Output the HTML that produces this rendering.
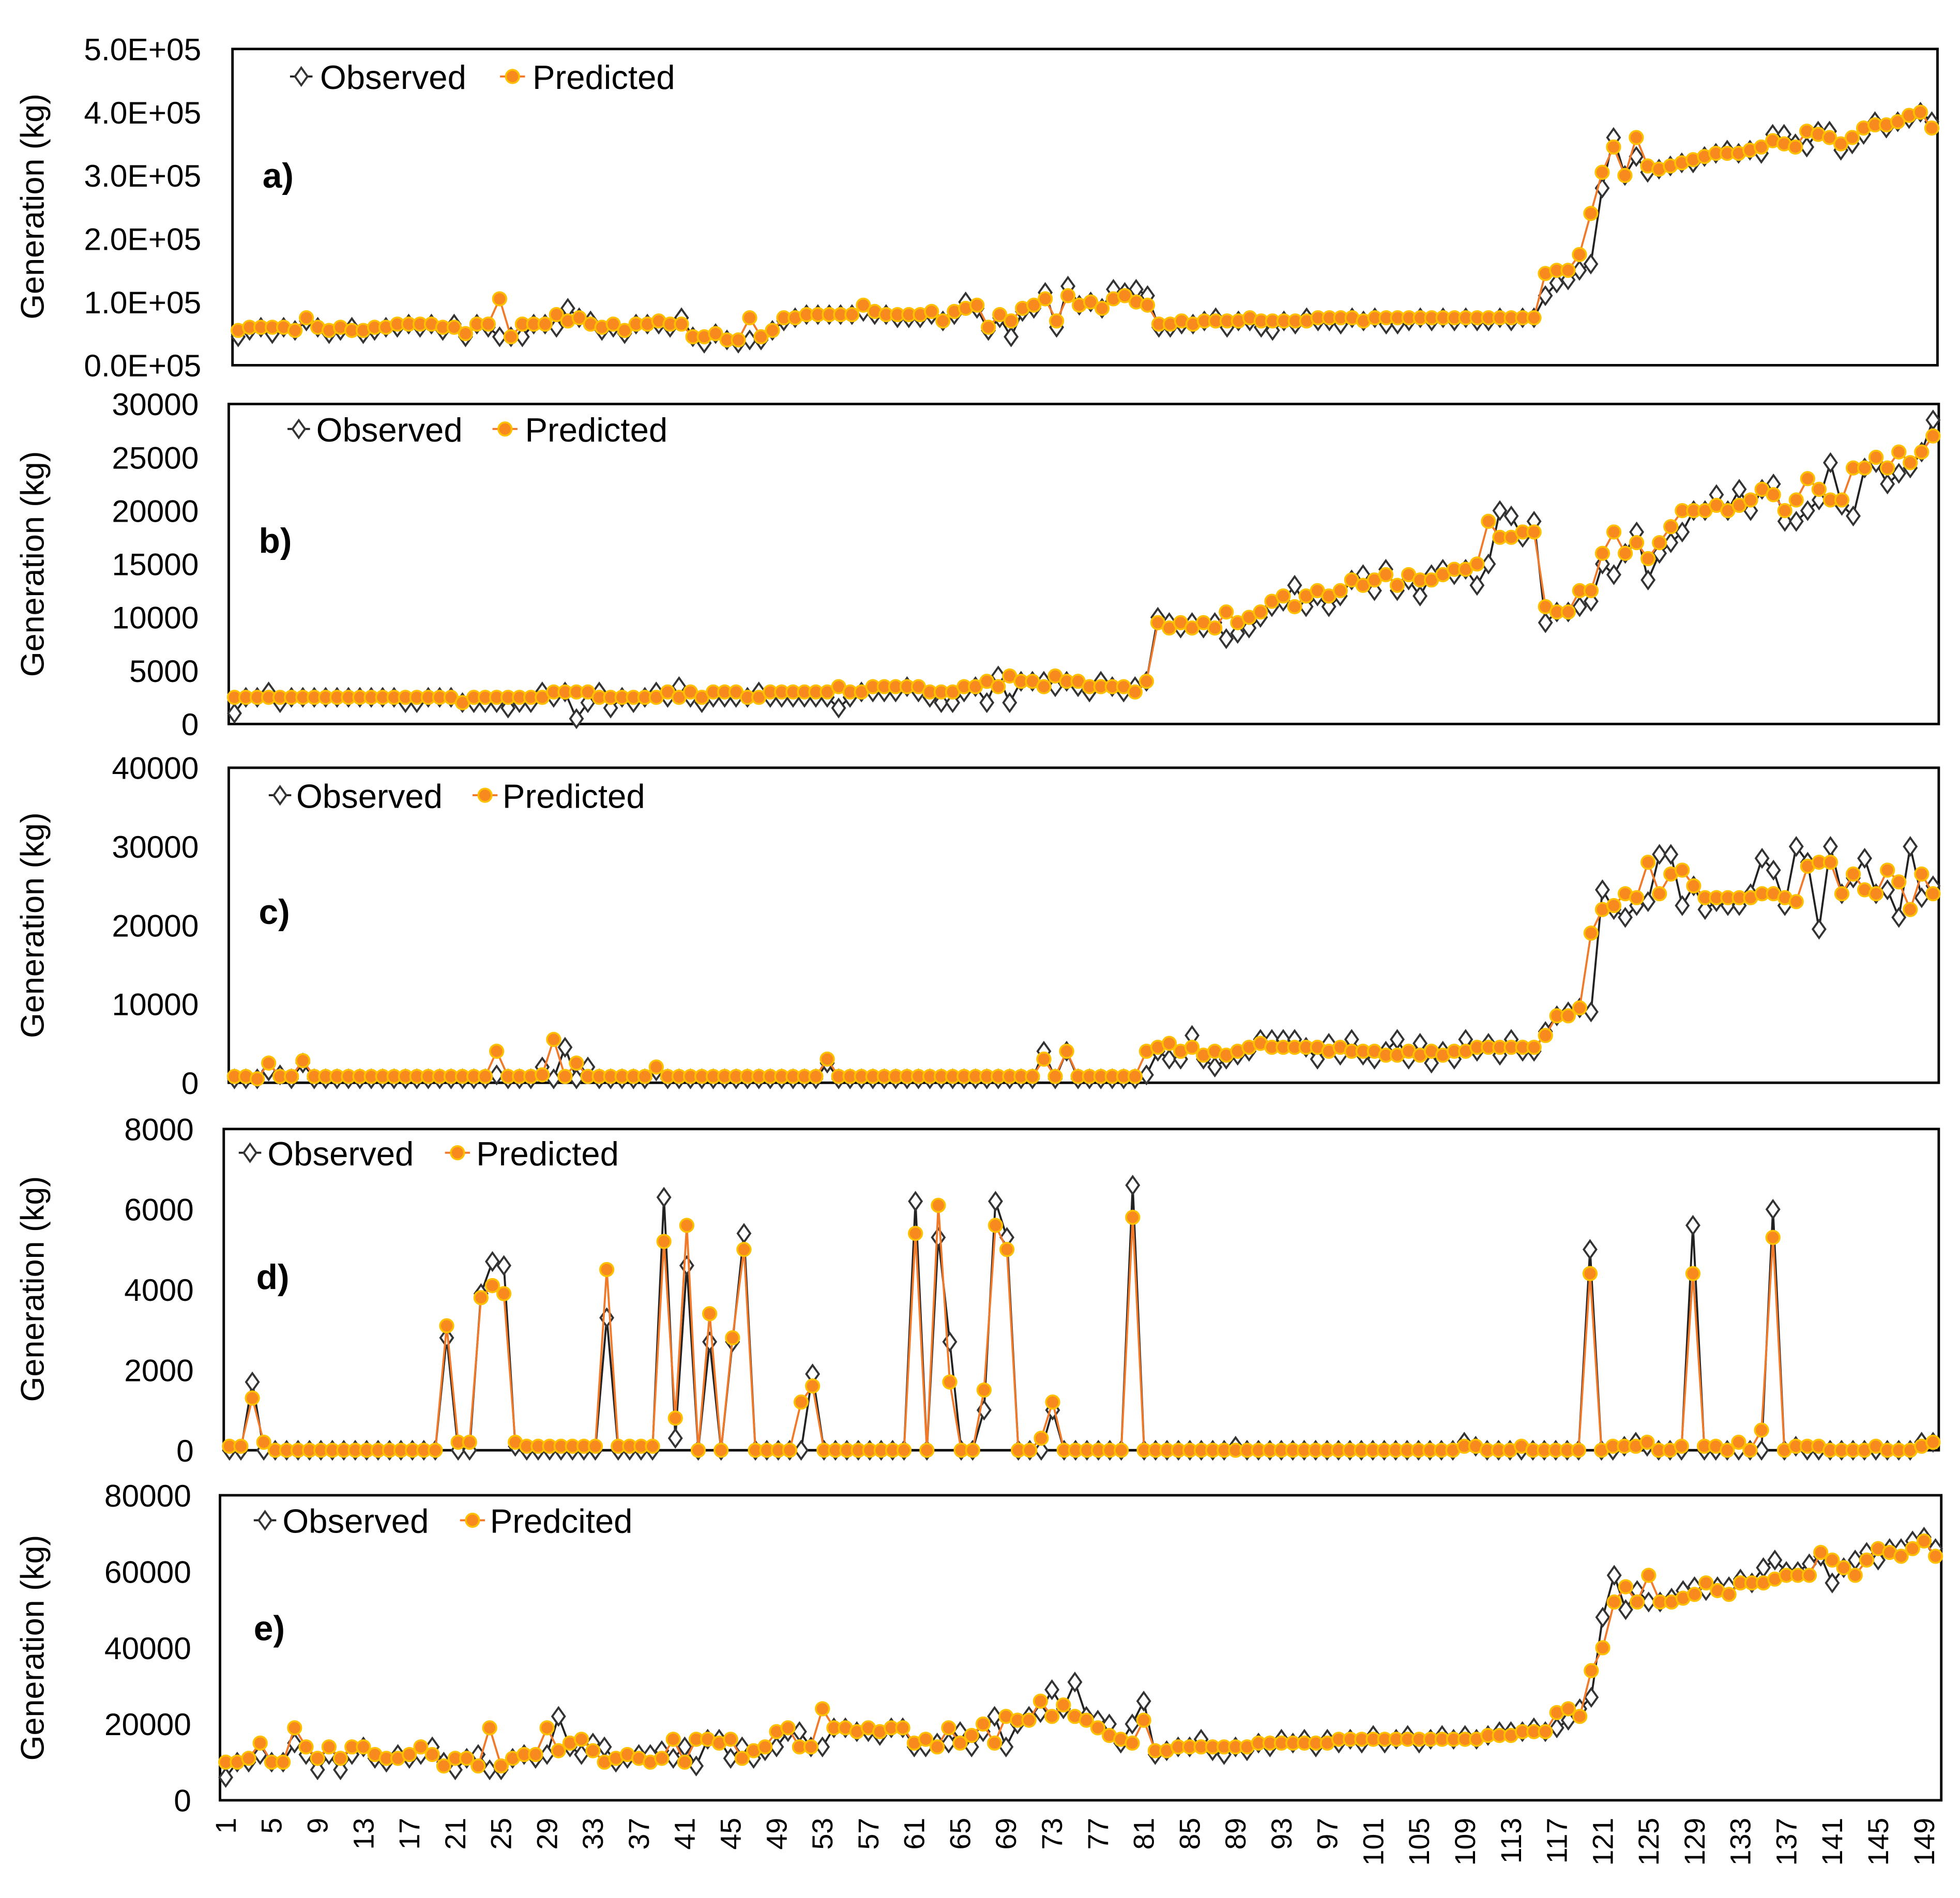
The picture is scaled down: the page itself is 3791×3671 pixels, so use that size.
<!DOCTYPE html>
<html><head><meta charset="utf-8"><style>
html,body{margin:0;padding:0;background:#fff}
svg{display:block}
text{font-family:"Liberation Sans",Arial,sans-serif;fill:#000}
</style></head><body>
<svg id="chart" width="3791" height="3671" viewBox="0 0 1568 1518" xmlns="http://www.w3.org/2000/svg"></svg>
<script>
const categories = Array.from({length:150},(_,k)=>k+1);
const xTickLabels = [1,5,9,13,17,21,25,29,33,37,41,45,49,53,57,61,65,69,73,77,81,85,89,93,97,101,105,109,113,117,121,125,129,133,137,141,145,149];

const aObs = [45,55,60,50,60,55,70,60,50,55, 60,50,55,60,60,65,60,65,55,65, 45,65,60,45,45,45,65,65,60,90, 75,70,55,60,50,65,65,65,60,75, 45,35,50,40,35,40,40,55,70,75, 80,80,80,80,80,85,80,80,75,75, 75,80,70,80,100,90,55,75,45,85, 90,115,60,125,95,100,90,120,115,120, 110,60,60,65,65,70,75,60,70,70, 60,55,70,65,75,70,70,65,75,70, 75,65,65,70,75,70,75,70,75,70, 70,75,70,75,75,110,130,135,150,160, 280,360,300,330,305,310,315,320,320,330, 335,340,335,340,335,365,365,350,345,370, 370,340,350,365,385,375,385,390,400,385];
const aPred = [55,60,60,60,60,55,75,60,55,60, 55,55,60,60,65,65,65,65,60,60, 50,65,65,105,45,65,65,65,80,70, 75,65,60,65,55,65,65,70,65,65, 45,45,50,40,40,75,45,55,75,75, 80,80,80,80,80,95,85,80,80,80, 80,85,70,85,90,95,60,80,70,90, 95,105,70,110,95,100,90,105,110,100, 95,65,65,70,65,70,70,70,70,75, 70,70,70,70,70,75,75,75,75,70, 75,75,75,75,75,75,75,75,75,75, 75,75,75,75,75,145,150,150,175,240, 305,345,300,360,315,310,315,320,325,330, 335,335,335,340,345,355,350,345,370,365, 360,350,360,375,380,380,385,395,400,375];
const bObs = [1000,2500,2500,3000,2000,2500,2500,2500,2500,2500, 2500,2500,2500,2500,2500,2000,2000,2500,2500,2500, 2000,2000,2000,2000,1500,2000,2000,3000,2500,3000, 500,2000,3000,1500,2500,2000,2500,3000,2500,3500, 2500,2000,2500,2500,2500,2500,3000,2500,2500,2500, 2500,2500,2500,1500,2500,3000,3000,3000,3000,3500, 3000,2500,2000,2000,3000,3500,2000,4500,2000,4000, 4000,4000,3500,4000,3500,3000,4000,3500,3000,3500, 4000,10000,9500,9000,9500,9000,9500,8000,8500,9000, 10000,11000,11500,13000,11000,12000,11000,12000,13500,14000, 12500,14500,12500,13500,12000,14000,14500,14000,14500,13000, 15000,20000,19500,17500,19000,9500,10500,10500,11000,11500, 15000,14000,16000,18000,13500,16000,17000,18000,20000,20000, 21500,20000,22000,20000,22000,22500,19000,19000,20000,21000, 24500,20500,19500,24000,24500,22500,23500,24000,25500,28500];
const bPred = [2500,2500,2500,2500,2500,2500,2500,2500,2500,2500, 2500,2500,2500,2500,2500,2500,2500,2500,2500,2500, 2000,2500,2500,2500,2500,2500,2500,2500,3000,3000, 3000,3000,2500,2500,2500,2500,2500,2500,3000,2500, 3000,2500,3000,3000,3000,2500,2500,3000,3000,3000, 3000,3000,3000,3500,3000,3000,3500,3500,3500,3500, 3500,3000,3000,3000,3500,3500,4000,3500,4500,4000, 4000,3500,4500,4000,4000,3500,3500,3500,3500,3000, 4000,9500,9000,9500,9000,9500,9000,10500,9500,10000, 10500,11500,12000,11000,12000,12500,12000,12500,13500,13000, 13500,14000,13000,14000,13500,13500,14000,14500,14500,15000, 19000,17500,17500,18000,18000,11000,10500,10500,12500,12500, 16000,18000,16000,17000,15500,17000,18500,20000,20000,20000, 20500,20000,20500,21000,22000,21500,20000,21000,23000,22000, 21000,21000,24000,24000,25000,24000,25500,24500,25500,27000];
const cObs = [500,500,500,1500,1000,500,2500,500,500,500, 500,500,500,500,500,500,500,500,500,500, 500,500,500,1000,500,500,500,2000,500,4500, 500,2000,500,500,500,500,500,1500,500,500, 500,500,500,500,500,500,500,500,500,500, 500,500,2500,500,500,500,500,500,500,500, 500,500,500,500,500,500,500,500,500,500, 500,4000,500,4000,500,500,500,500,500,500, 1000,4000,3000,3000,6000,3000,2000,3000,3500,4000, 5500,5500,5500,5500,4500,3000,5000,3500,5500,3500, 3000,4000,5500,3000,5000,2500,4000,3000,5500,4000, 5000,3500,5500,4000,4000,6500,8500,9000,9500,9000, 24500,22000,21000,22500,23000,29000,29000,22500,25000,22000, 23000,22500,22500,24000,28500,27000,22500,30000,28000,19500, 30000,24000,26000,28500,24000,24500,21000,30000,23500,25000];
const cPred = [800,800,500,2500,800,800,2800,800,800,800, 800,800,800,800,800,800,800,800,800,800, 800,800,800,4000,800,800,800,1000,5500,800, 2500,800,800,800,800,800,800,2000,800,800, 800,800,800,800,800,800,800,800,800,800, 800,800,3000,800,800,800,800,800,800,800, 800,800,800,800,800,800,800,800,800,800, 800,3000,800,4000,800,800,800,800,800,800, 4000,4500,5000,4000,4500,3500,4000,3500,4000,4500, 5000,4500,4500,4500,4500,4500,4000,4500,4000,4000, 4000,3500,3500,4000,3500,4000,3500,4000,4000,4500, 4500,4500,4500,4500,4500,6000,8500,8500,9500,19000, 22000,22500,24000,23500,28000,24000,26500,27000,25000,23500, 23500,23500,23500,23500,24000,24000,23500,23000,27500,28000, 28000,24000,26500,24500,24000,27000,25500,22000,26500,24000];
const dObs = [0,0,1700,0,0,0,0,0,0,0, 0,0,0,0,0,0,0,0,0,2800, 0,0,3900,4700,4600,100,0,0,0,0, 0,0,0,3300,0,0,0,0,6300,300, 4600,0,2700,0,2700,5400,0,0,0,0, 0,1900,0,0,0,0,0,0,0,0, 6200,0,5300,2700,0,0,1000,6200,5300,0, 0,0,1000,0,0,0,0,0,0,6600, 0,0,0,0,0,0,0,0,100,0, 0,0,0,0,0,0,0,0,0,0, 0,0,0,0,0,0,0,0,200,100, 0,0,0,0,0,0,0,0,0,5000, 0,0,100,200,100,0,0,0,5600,0, 0,0,0,0,0,6000,0,100,0,0, 0,0,0,0,0,0,0,0,200,200];
const dPred = [100,100,1300,200,0,0,0,0,0,0, 0,0,0,0,0,0,0,0,0,3100, 200,200,3800,4100,3900,200,100,100,100,100, 100,100,100,4500,100,100,100,100,5200,800, 5600,0,3400,0,2800,5000,0,0,0,0, 1200,1600,0,0,0,0,0,0,0,0, 5400,0,6100,1700,0,0,1500,5600,5000,0, 0,300,1200,0,0,0,0,0,0,5800, 0,0,0,0,0,0,0,0,0,0, 0,0,0,0,0,0,0,0,0,0, 0,0,0,0,0,0,0,0,100,100, 0,0,0,100,0,0,0,0,0,4400, 0,100,100,100,200,0,0,100,4400,100, 100,0,200,0,500,5300,0,100,100,100, 0,0,0,0,100,0,0,0,100,200];
const eObs = [6000,10000,10000,12000,10000,10000,15000,12000,8000,12000, 8000,12000,14000,11000,10000,12000,11000,12000,14000,10000, 8000,11000,12000,8000,8000,11000,12000,11000,12000,22000, 14000,12000,15000,14000,10000,11000,12000,12000,13000,11000, 14000,9000,16000,16000,11000,14000,11000,13000,14000,18000, 18000,14000,14000,19000,19000,18000,18000,17000,19000,19000, 14000,14000,15000,15000,18000,14000,18000,22000,14000,20000, 22000,23000,29000,24000,31000,22000,21000,20000,15000,20000, 26000,12000,13000,14000,14000,16000,13000,12000,14000,13000, 15000,14000,16000,15000,16000,14000,16000,15000,16000,15000, 17000,15000,16000,17000,15000,16000,17000,16000,17000,16000, 17000,18000,18000,18000,19000,18000,19000,21000,24000,27000, 48000,59000,50000,55000,52000,52000,53000,55000,56000,55000, 56000,56000,58000,57000,61000,63000,60000,60000,62000,64000, 57000,61000,63000,65000,63000,66000,66000,68000,69000,66000];
const ePred = [10000,10000,11000,15000,10000,10000,19000,14000,11000,14000, 11000,14000,14000,12000,11000,11000,12000,14000,12000,9000, 11000,11000,9000,19000,9000,11000,12000,12000,19000,13000, 15000,16000,13000,10000,11000,12000,11000,10000,11000,16000, 10000,16000,16000,15000,16000,11000,13000,14000,18000,19000, 14000,14000,24000,19000,19000,18000,19000,18000,19000,19000, 15000,16000,14000,19000,15000,17000,20000,15000,22000,21000, 21000,26000,22000,25000,22000,21000,19000,17000,16000,15000, 21000,13000,13000,14000,14000,14000,14000,14000,14000,14000, 15000,15000,15000,15000,15000,15000,15000,16000,16000,16000, 16000,16000,16000,16000,16000,16000,16000,16000,16000,16000, 17000,17000,17000,18000,18000,18000,23000,24000,22000,34000, 40000,52000,56000,52000,59000,52000,52000,53000,54000,57000, 55000,54000,57000,57000,57000,58000,59000,59000,59000,65000, 63000,61000,59000,63000,66000,65000,64000,66000,68000,64000];

const NS="http://www.w3.org/2000/svg";
const svg=document.getElementById('chart');
function mk(tag,attrs,parent){const e=document.createElementNS(NS,tag);for(const k in attrs)e.setAttribute(k,attrs[k]);(parent||svg).appendChild(e);return e;}

const panels=[
 {id:'a',L:186,R:1550,T:39,B:292,max:5e5,step:1e5,scale:1000,obs:aObs,pred:aPred,fmt:v=>(v/1e5).toFixed(1)+'E+05',tickX:161,leg:[241,256,410,426],legY:61,predName:'Predicted',lab:[210,140],titleY:165},
 {id:'b',L:183,R:1551,T:323,B:579,max:30000,step:5000,scale:1,obs:bObs,pred:bPred,fmt:v=>String(v),tickX:159,leg:[239,253,404,420],legY:343,predName:'Predicted',lab:[207,432],titleY:451},
 {id:'c',L:183,R:1551,T:614,B:866,max:40000,step:10000,scale:1,obs:cObs,pred:cPred,fmt:v=>String(v),tickX:159,leg:[224,237,388,402],legY:636,predName:'Predicted',lab:[207,729],titleY:740},
 {id:'d',L:179,R:1551,T:903,B:1160,max:8000,step:2000,scale:1,obs:dObs,pred:dPred,fmt:v=>String(v),tickX:155,leg:[200,214,366,381],legY:922,predName:'Predicted',lab:[205,1021],titleY:1031},
 {id:'e',L:176,R:1553,T:1196,B:1440,max:80000,step:20000,scale:1,obs:eObs,pred:ePred,fmt:v=>String(v),tickX:153,leg:[212,226,378,392],legY:1216,predName:'Predcited',lab:[203,1302],titleY:1318}
];

function diamond(x,y,g){return mk('polygon',{points:`${x},${y-7} ${x+5},${y} ${x},${y+7} ${x-5},${y}`,fill:'#fff',stroke:'#333','stroke-width':1.6},g);}
function dot(x,y,g){return mk('circle',{cx:x,cy:y,r:5.3,fill:'#f7891f',stroke:'#ffc000','stroke-width':1.5},g);}

panels.forEach(p=>{
  const g=mk('g',{});
  
  
  const xs=i=>p.L+(i-0.5)*(p.R-p.L)/150;
  const ys=v=>p.B-(v*p.scale)/p.max*(p.B-p.T);
  const frame=mk('rect',{x:p.L,y:p.T,width:p.R-p.L,height:p.B-p.T,fill:'none',stroke:'#000','stroke-width':2},g);
  
  
  for(let v=0;v<=p.max+1e-6;v+=p.step){
    const t=mk('text',{x:p.tickX,y:p.B-v/p.max*(p.B-p.T)+9,'text-anchor':'end','font-size':25},g);
    t.textContent=p.fmt(v);
    
    
  }
  const yt=mk('text',{x:0,y:0,'text-anchor':'middle','font-size':26,fill:'#222',transform:`translate(35,${p.titleY}) rotate(-90)`},g);
  yt.textContent='Generation (kg)';
  
  
  const lb=mk('text',{x:p.lab[0],y:p.lab[1]+10,'font-size':28,'font-weight':'bold'},g);
  lb.textContent=p.id+')';
  
  
  const ol=mk('polyline',{points:categories.map((c,k)=>xs(c)+','+ys(p.obs[k])).join(' '),fill:'none',stroke:'#222','stroke-width':1.6},g);
  
  
  categories.forEach((c,k)=>{const m=diamond(xs(c),ys(p.obs[k]),g);
    
    });
  const pl=mk('polyline',{points:categories.map((c,k)=>xs(c)+','+ys(p.pred[k])).join(' '),fill:'none',stroke:'#f07a2a','stroke-width':1.6},g);
  
  
  categories.forEach((c,k)=>{const m=dot(xs(c),ys(p.pred[k]),g);
    
    });
  const lg=mk('g',{},g);
  
  
  const [dx,tx,px,ptx]=p.leg, ly=p.legY;
  mk('line',{x1:dx-9,y1:ly,x2:dx+9,y2:ly,stroke:'#222','stroke-width':1.6},lg);
  diamond(dx,ly,lg);
  const t1=mk('text',{x:tx,y:ly+10,'font-size':27},lg);t1.textContent='Observed';
  
  
  mk('line',{x1:px-10,y1:ly,x2:px+10,y2:ly,stroke:'#f07a2a','stroke-width':1.6},lg);
  dot(px,ly,lg);
  const t2=mk('text',{x:ptx,y:ly+10,'font-size':27},lg);t2.textContent=p.predName;
  
  
});
const pe=panels[4];
xTickLabels.forEach(v=>{
  const x=pe.L+(v-0.5)*(pe.R-pe.L)/150+8;
  const t=mk('text',{x:0,y:0,'text-anchor':'end','font-size':23,transform:`translate(${x},1454) rotate(-90)`});
  t.textContent=String(v);
  
  
});
</script>
</body></html>
